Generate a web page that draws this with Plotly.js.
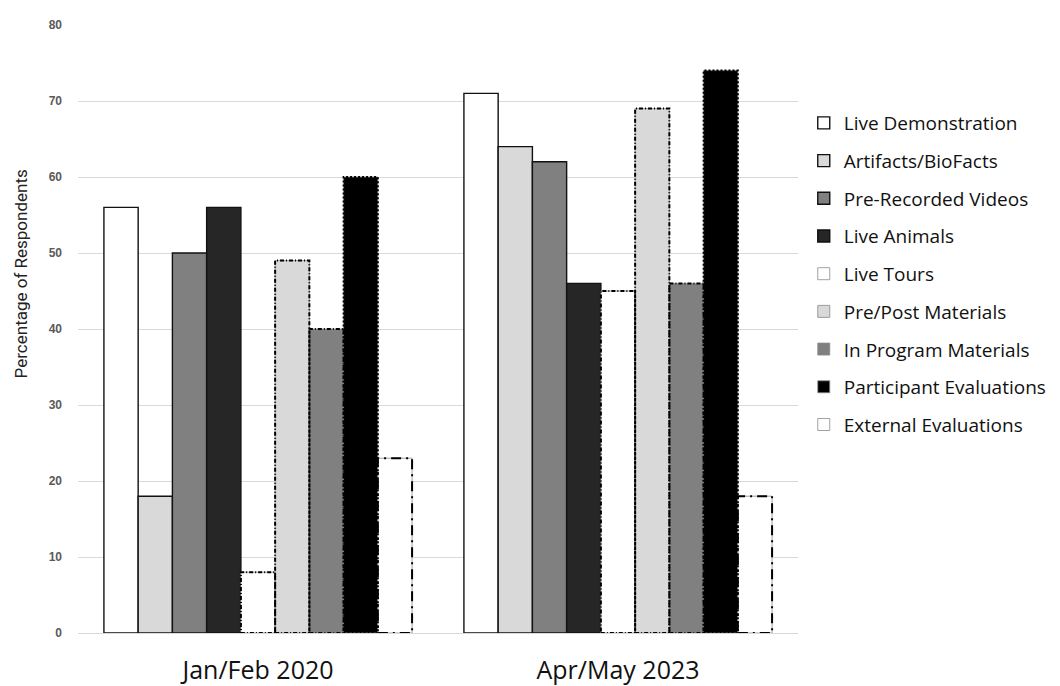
<!DOCTYPE html>
<html>
<head>
<meta charset="utf-8">
<script src="https://cdn.plot.ly/plotly-3.0.1.min.js"></script>
<style>
  html, body { margin: 0; padding: 0; background: #fff; }
  #chart { width: 1060px; height: 686px; }
</style>
</head>
<body>
<div id="chart"></div>
<script>
// Survey periods (x categories)
const categories = ['Jan/Feb 2020', 'Apr/May 2023'];

// Program components, in legend order
const seriesNames = [
  'Live Demonstration', 'Artifacts/BioFacts', 'Pre-Recorded Videos', 'Live Animals',
  'Live Tours', 'Pre/Post Materials', 'In Program Materials',
  'Participant Evaluations', 'External Evaluations'
];

// Percentage of respondents per component, one value per period
const liveDemonstration      = [56, 71];
const artifactsBioFacts      = [18, 64];
const preRecordedVideos      = [50, 62];
const liveAnimals            = [56, 46];
const liveTours              = [8, 45];
const prePostMaterials       = [49, 69];
const inProgramMaterials     = [40, 46];
const participantEvaluations = [60, 74];
const externalEvaluations    = [23, 18];

const yTicks = [0, 10, 20, 30, 40, 50, 60, 70, 80];

const seriesValues = [
  liveDemonstration, artifactsBioFacts, preRecordedVideos, liveAnimals,
  liveTours, prePostMaterials, inProgramMaterials,
  participantEvaluations, externalEvaluations
];

// Fill and outline style of each series
const fills = ['#ffffff', '#d9d9d9', '#808080', '#262626',
               '#ffffff', '#d9d9d9', '#808080', '#000000', '#ffffff'];
const outlineDash = [null, null, null, null,
                     '4px,2px,1px,2px', '4px,2px,1px,2px', '4px,2px,1px,2px',
                     '2px,2px', '10px,5px,2px,5px'];

const bargap = 0.144;
const groupWidth = 1 - bargap;
const barWidth = groupWidth / seriesNames.length;
const xPos = categories.map((c, j) => j);

const traces = seriesNames.map((name, i) => ({
  type: 'bar',
  name: name,
  x: xPos,
  y: seriesValues[i],
  legendgroup: 'g' + i,
  marker: {
    color: fills[i],
    line: outlineDash[i] ? { color: '#8a8a8a', width: 0.8 } : { color: '#111', width: 1.4 }
  },
  hovertemplate: name + ': %{y}%<extra></extra>'
}));

// Dashed outlines for the patterned series, placed on the data axes
const shapes = [];
seriesNames.forEach((name, i) => {
  if (!outlineDash[i]) return;
  seriesValues[i].forEach((v, j) => {
    const x0 = xPos[j] - groupWidth / 2 + i * barWidth;
    shapes.push({
      type: 'rect', xref: 'x', yref: 'y', layer: 'above',
      x0: x0, x1: x0 + barWidth, y0: 0, y1: v,
      line: { color: '#000', width: 2, dash: outlineDash[i] },
      fillcolor: 'rgba(0,0,0,0)'
    });
  });
});

const layout = {
  width: 1060, height: 686,
  margin: { l: 78, r: 262, t: 25, b: 53, autoexpand: false },
  paper_bgcolor: '#fff', plot_bgcolor: '#fff',
  barmode: 'group', bargap: bargap, bargroupgap: 0,
  showlegend: true,
  legend: {
    x: 1.008, xanchor: 'left', y: 0.87, yanchor: 'top',
    font: { family: 'Open Sans, Liberation Sans, sans-serif', size: 19, color: '#111' },
    tracegroupgap: 10, itemwidth: 30, traceorder: 'grouped'
  },
  xaxis: {
    type: 'linear', range: [-0.5, 1.5],
    tickvals: xPos, ticktext: categories,
    showgrid: false, zeroline: false, showline: false, ticks: '',
    ticklabelstandoff: 20,
    tickfont: { family: 'Open Sans, Liberation Sans, sans-serif', size: 25, color: '#111' }
  },
  yaxis: {
    range: [0, 80], tickvals: yTicks, ticktext: yTicks.map(String),
    showgrid: true, gridcolor: '#d9d9d9', gridwidth: 1,
    zeroline: true, zerolinecolor: '#d9d9d9', zerolinewidth: 1,
    showline: false, ticks: '', ticklabelstandoff: 15,
    tickfont: { family: 'Liberation Sans, Arial, sans-serif', size: 12, color: '#595959', weight: 'bold' }
  },
  annotations: [{
    text: 'Percentage of Respondents', textangle: -90,
    xref: 'paper', yref: 'paper', x: -0.079, y: 0.59,
    xanchor: 'center', yanchor: 'middle', showarrow: false,
    font: { family: 'Liberation Sans Narrow, Roboto, sans-serif', size: 17, color: '#222' }
  }],
  shapes: shapes
};

Plotly.newPlot('chart', traces, layout, { displayModeBar: false, staticPlot: true });
</script>
</body>
</html>
